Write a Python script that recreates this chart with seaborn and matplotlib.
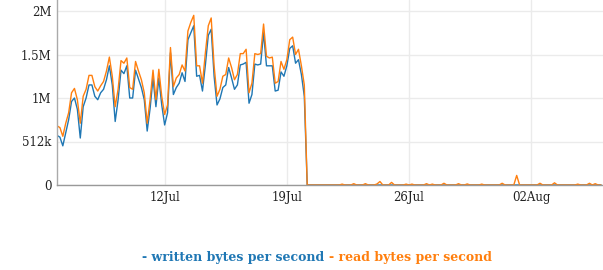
import numpy as np
import pandas as pd
import matplotlib
matplotlib.use("Agg")
import matplotlib.pyplot as plt
import matplotlib.dates as mdates
import seaborn as sns

# ---- data (values in MiB/s, 1M = 1048576 bytes), one sample every 4 hours ----
start_time = "2015-07-05 20:00"
step_minutes = 240
end_view = "2015-08-06 02:40"

written_active = [0.57, 0.55, 0.45, 0.60, 0.75, 0.96, 1.00, 0.87, 0.54, 0.90,
                  1.00, 1.15, 1.15, 1.02, 0.98, 1.06, 1.10, 1.21, 1.37, 1.15,
                  0.73, 0.98, 1.32, 1.28, 1.37, 1.00, 1.00, 1.32, 1.22, 1.12,
                  0.98, 0.62, 0.88, 1.23, 0.90, 1.23, 0.92, 0.69, 0.83, 1.52,
                  1.04, 1.12, 1.17, 1.29, 1.19, 1.67, 1.75, 1.83, 1.25, 1.26,
                  1.08, 1.38, 1.72, 1.79, 1.25, 0.92, 0.99, 1.12, 1.15, 1.35,
                  1.23, 1.10, 1.15, 1.38, 1.39, 1.41, 0.94, 1.04, 1.39, 1.38,
                  1.39, 1.75, 1.37, 1.37, 1.37, 1.08, 1.09, 1.30, 1.25, 1.37,
                  1.57, 1.60, 1.40, 1.44, 1.27, 1.02, 0.0]
read_active = [0.68, 0.66, 0.56, 0.71, 0.83, 1.06, 1.11, 0.98, 0.71, 1.02,
               1.10, 1.26, 1.26, 1.13, 1.08, 1.14, 1.19, 1.31, 1.47, 1.25,
               0.90, 1.10, 1.43, 1.40, 1.46, 1.12, 1.10, 1.42, 1.31, 1.21,
               1.06, 0.71, 0.98, 1.32, 0.98, 1.33, 1.02, 0.81, 0.92, 1.58,
               1.13, 1.23, 1.27, 1.38, 1.31, 1.77, 1.87, 1.95, 1.37, 1.37,
               1.17, 1.52, 1.83, 1.92, 1.37, 1.02, 1.10, 1.25, 1.27, 1.46,
               1.35, 1.21, 1.27, 1.51, 1.51, 1.56, 1.06, 1.17, 1.51, 1.50,
               1.51, 1.85, 1.48, 1.46, 1.47, 1.17, 1.19, 1.42, 1.33, 1.44,
               1.67, 1.70, 1.50, 1.56, 1.37, 1.15, 0.0]

read_idle = [0, 0, 0, 0, 0, 0, 0, 0, 0, 0,
             0, 0.01, 0, 0, 0, 0.015, 0, 0, 0, 0.015,
             0, 0, 0, 0.012, 0.04, 0, 0, 0, 0.03, 0,
             0, 0, 0, 0.01, 0, 0.01, 0, 0, 0, 0,
             0.015, 0, 0.01, 0, 0, 0, 0.02, 0, 0, 0,
             0, 0.015, 0, 0, 0.012, 0, 0, 0, 0, 0.01,
             0, 0, 0, 0, 0, 0, 0.02, 0, 0, 0,
             0, 0.11, 0, 0, 0, 0, 0, 0, 0, 0.02,
             0, 0, 0, 0, 0.025, 0, 0, 0, 0, 0,
             0, 0, 0.01, 0, 0, 0, 0.02, 0, 0.015, 0, 0]
written_idle = [0] * len(read_idle)

x_ticks = ["2015-07-12", "2015-07-19", "2015-07-26", "2015-08-02"]
y_ticks = [0, 0.5, 1.0, 1.5, 2.0]
y_tick_labels = ["0", "512k", "1M", "1.5M", "2M"]
series_names = ["written bytes per second", "read bytes per second"]
colors = ["#1f77b4", "#ff7f0e"]

MIB = 1048576
written = np.array(written_active + written_idle) * MIB
read = np.array(read_active + read_idle) * MIB
n = len(read)
times = pd.date_range(start_time, periods=n, freq=f"{step_minutes}min")

df = pd.concat([
    pd.DataFrame({"time": times, "value": written, "series": series_names[0]}),
    pd.DataFrame({"time": times, "value": read, "series": series_names[1]}),
])

sns.set_theme(style="white")
plt.rcParams["font.family"] = ["DejaVu Serif"]

fig = plt.figure(figsize=(6.03, 2.70), dpi=100)
ax = fig.add_axes([57 / 603, 1 - 185 / 270, 1 - 57 / 603, 185 / 270])

sns.lineplot(data=df, x="time", y="value", hue="series", hue_order=series_names,
             palette=colors, linewidth=1.0, ax=ax, legend=False)

ax.set_xlim(times[0], pd.Timestamp(end_view))
ax.set_ylim(0, 185 / 87 * MIB)
ax.set_yticks([v * MIB for v in y_ticks])
ax.set_yticklabels(y_tick_labels)
ax.set_xticks(pd.to_datetime(x_ticks))
ax.xaxis.set_major_formatter(mdates.DateFormatter("%d%b"))
ax.set_xlabel("")
ax.set_ylabel("")
ax.grid(True, color="#ebebeb", linewidth=1.0)
ax.set_axisbelow(True)
for s in ["top", "right"]:
    ax.spines[s].set_visible(False)
ax.spines["left"].set_color("#aaaaaa")
ax.spines["bottom"].set_color("#999999")
ax.spines["left"].set_linewidth(1.0)
ax.spines["bottom"].set_linewidth(1.0)
ax.tick_params(axis="both", length=0, labelsize=8.5, colors="#222222", pad=4)

fig.text(324 / 603, 1 - 258 / 270, "- " + series_names[0], ha="right", va="center",
         color=colors[0], fontsize=9, fontweight="bold")
fig.text(329 / 603, 1 - 258 / 270, "- " + series_names[1], ha="left", va="center",
         color=colors[1], fontsize=9, fontweight="bold")

fig.savefig("out.png", dpi=100)
